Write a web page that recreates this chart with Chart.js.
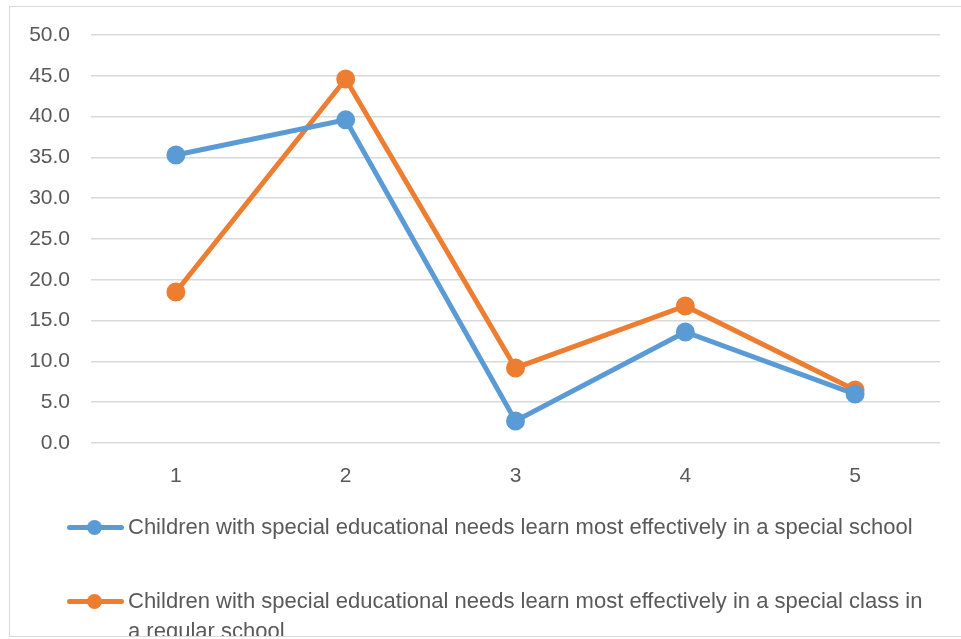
<!DOCTYPE html>
<html>
<head>
<meta charset="utf-8">
<script src="https://cdn.jsdelivr.net/npm/chart.js@4"></script>
<style>
  body { margin: 0; background: #fff; }
  #wrap { position: relative; width: 961px; height: 639px; overflow: hidden; }
  #frame { position: absolute; left: 9px; top: 6px; width: 970px; height: 631px; border: 1px solid #D9D9D9; box-sizing: border-box; }
  canvas { position: absolute; left: 0; top: 0; }
  #legend { position: absolute; left: 0; top: 0; width: 961px; height: 636px; overflow: hidden; }
  .item { position: absolute; left: 67px; width: 880px; font-family: "Liberation Sans", Arial, sans-serif; font-size: 22px; color: #595959; line-height: 30px; }
  .item .txt { position: absolute; left: 61px; top: 0; width: 800px; }
  .item .mark { position: absolute; left: 0; top: 13px; width: 57px; height: 5px; border-radius: 3px; }
  .item .dot { position: absolute; left: 20px; top: 8px; width: 15px; height: 15px; border-radius: 50%; }
</style>
</head>
<body>
<div id="wrap">
  <div id="frame"></div>
  <canvas id="grafica" width="961" height="639"></canvas>
  <div id="legend"></div>
</div>
<script>
const categorias = ['1', '2', '3', '4', '5'];
const escuelaEspecial = [35.3, 39.6, 2.7, 13.6, 6.0];
const claseEspecial = [18.5, 44.6, 9.2, 16.8, 6.5];
const nombres = [
  'Children with special educational needs learn most effectively in a special school',
  'Children with special educational needs learn most effectively in a special class in a regular school'
];
const colores = ['#5B9BD5', '#ED7D31'];

const ctx = document.getElementById('grafica').getContext('2d');
Chart.defaults.font.family = '"Liberation Sans", Arial, sans-serif';
Chart.defaults.color = '#595959';

const chart = new Chart(ctx, {
  type: 'line',
  data: {
    labels: categorias,
    datasets: [escuelaEspecial, claseEspecial].map((serie, i) => ({
      label: nombres[i],
      data: serie,
      borderColor: colores[i],
      backgroundColor: colores[i],
      borderWidth: 5,
      pointRadius: 7,
      pointHoverRadius: 7,
      tension: 0,
      fill: false
    }))
  },
  options: {
    responsive: false,
    animation: false,
    layout: { padding: { top: 35, right: 21, left: 0, bottom: 0 } },
    plugins: { legend: { display: false }, tooltip: { enabled: false } },
    scales: {
      x: {
        offset: true,
        grid: { display: false },
        border: { display: false },
        ticks: { font: { size: 21 }, padding: 13 },
        afterFit: s => { s.height = 196; }
      },
      y: {
        min: 0,
        max: 50,
        ticks: { stepSize: 5, font: { size: 21 }, padding: 21, callback: v => v.toFixed(1) },
        grid: { color: '#D9D9D9', lineWidth: 1.5, drawTicks: false },
        border: { display: false },
        afterFit: s => { s.width = 91; }
      }
    }
  }
});

// leyenda a mano, como en el original
const legendDiv = document.getElementById('legend');
const tops = [512, 586];
nombres.forEach((n, i) => {
  const el = document.createElement('div');
  el.className = 'item';
  el.style.top = tops[i] + 'px';
  el.innerHTML = `<div class="mark" style="background:${colores[i]}"></div>
    <div class="dot" style="background:${colores[i]}"></div>
    <div class="txt">${n}</div>`;
  legendDiv.appendChild(el);
});
</script>
</body>
</html>
